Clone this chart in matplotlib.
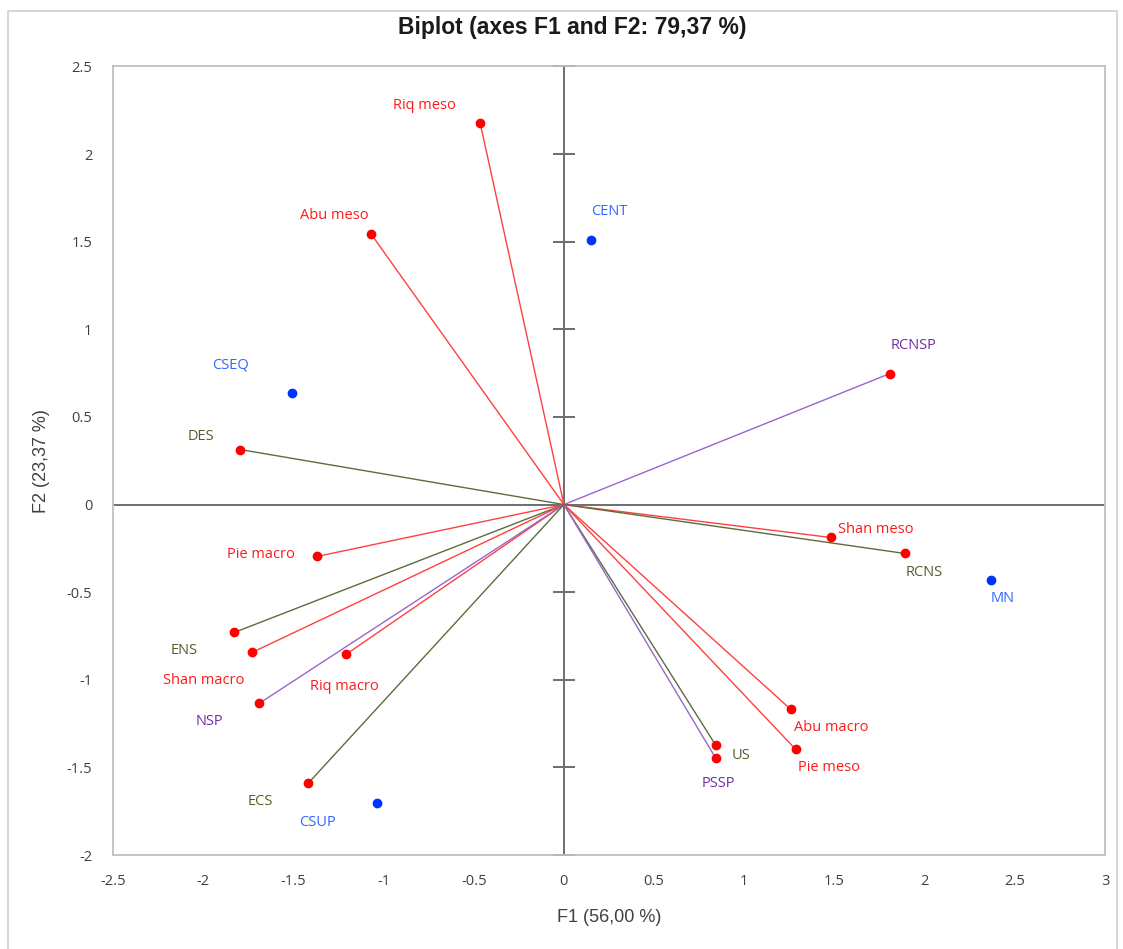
import matplotlib
matplotlib.use("Agg")
import matplotlib.pyplot as plt
from matplotlib.patches import Rectangle

# Variables (vectors) : name, F1, F2, group
var_names = ['Riq meso', 'Abu meso', 'RCNSP', 'DES', 'Shan meso', 'RCNS',
             'Pie macro', 'ENS', 'Shan macro', 'Riq macro', 'NSP',
             'Abu macro', 'US', 'Pie meso', 'PSSP', 'ECS']
var_f1 = [-0.465, -1.07, 1.806, -1.795, 1.479, 1.889,
          -1.368, -1.828, -1.729, -1.208, -1.690,
          1.258, 0.842, 1.285, 0.842, -1.418]
var_f2 = [2.18, 1.545, 0.747, 0.314, -0.188, -0.279,
          -0.296, -0.730, -0.844, -0.855, -1.135,
          -1.169, -1.374, -1.397, -1.448, -1.591]
var_group = ['bio', 'bio', 'sp', 'env', 'bio', 'env',
             'bio', 'env', 'bio', 'bio', 'sp',
             'bio', 'env', 'bio', 'sp', 'env']

# Observations
obs_names = ['CENT', 'CSEQ', 'MN', 'CSUP']
obs_f1 = [0.15, -1.507, 2.366, -1.036]
obs_f2 = [1.51, 0.639, -0.433, -1.705]

# label offsets in pixels (dx, dy up)
var_offsets = {'Riq meso': (-56, 17), 'Abu meso': (-37, 18), 'RCNSP': (24, 28),
               'DES': (-39, 13), 'Shan meso': (45, 8), 'RCNS': (20, -19),
               'Pie macro': (-56, 2), 'ENS': (-50, -18), 'Shan macro': (-48, -28),
               'Riq macro': (-2, -32), 'NSP': (-50, -18), 'Abu macro': (40, -18),
               'US': (25, -10), 'Pie meso': (33, -18), 'PSSP': (3, -25),
               'ECS': (-48, -18)}
obs_offsets = {'CENT': (18, 28), 'CSEQ': (-62, 28), 'MN': (12, -18), 'CSUP': (-60, -19)}

line_colors = {'bio': '#FF4040', 'env': '#5A6E3C', 'sp': '#9966CC'}
text_colors = {'bio': '#FF1A1A', 'env': '#4F6228', 'sp': '#7030A0'}

plt.rcParams['font.family'] = ['Open Sans', 'DejaVu Sans']

fig = plt.figure(figsize=(11.23, 9.49), dpi=100)
fig.patches.append(Rectangle((0.007, -0.01), 0.988, 0.998, transform=fig.transFigure,
                             fill=False, edgecolor='#D0D0D0', linewidth=1.2))
ax = fig.add_axes([0.1006, 0.099, 0.8834, 0.831])

ax.set_xlim(-2.5, 3)
ax.set_ylim(-2, 2.5)

# zero axes, vertical one with crossing ticks
ax.axhline(0, color='#6E6E6E', linewidth=1.4, zorder=1)
ax.axvline(0, color='#6E6E6E', linewidth=1.4, zorder=1)
yt = [-2, -1.5, -1, -0.5, 0.5, 1, 1.5, 2, 2.5]
ax.plot([0] * len(yt), yt, linestyle='none', marker='_', markersize=16,
        markeredgewidth=1.4, color='#6E6E6E', zorder=1, clip_on=False)

for name, x, y, g in zip(var_names, var_f1, var_f2, var_group):
    ax.plot([0, x], [0, y], color=line_colors[g], linewidth=1.0, zorder=2)
    ax.plot(x, y, 'o', color='#FF0000', markersize=6, zorder=3)
    ax.annotate(name, (x, y), xytext=var_offsets[name], textcoords='offset pixels',
                ha='center', va='center', color=text_colors[g], fontsize=10.5)

for name, x, y in zip(obs_names, obs_f1, obs_f2):
    ax.plot(x, y, 'o', color='#0033FF', markersize=6, zorder=3)
    ax.annotate(name, (x, y), xytext=obs_offsets[name], textcoords='offset pixels',
                ha='center', va='center', color='#3366FF', fontsize=10.5)

ax.set_xticks([-2.5, -2, -1.5, -1, -0.5, 0, 0.5, 1, 1.5, 2, 2.5, 3])
ax.set_xticklabels(['-2.5', '-2', '-1.5', '-1', '-0.5', '0', '0.5', '1', '1.5', '2', '2.5', '3'])
ax.set_yticks([-2, -1.5, -1, -0.5, 0, 0.5, 1, 1.5, 2, 2.5])
ax.set_yticklabels(['-2', '-1.5', '-1', '-0.5', '0', '0.5', '1', '1.5', '2', '2.5'])
ax.tick_params(length=0, labelsize=10.5, colors='#404040')
ax.tick_params(axis='x', pad=14)
ax.tick_params(axis='y', pad=15)

for s in ax.spines.values():
    s.set_color('#BFBFBF')
    s.set_linewidth(1.3)

ax.set_xlabel('F1 (56,00 %)', fontsize=13, color='#404040', labelpad=14,
              family=['Liberation Sans', 'DejaVu Sans'])
ax.set_ylabel('F2 (23,37 %)', fontsize=13, color='#404040', labelpad=12,
              family=['Liberation Sans', 'DejaVu Sans'])
fig.text(0.5095, 0.971, 'Biplot (axes F1 and F2: 79,37 %)', ha='center', va='center',
         fontsize=16.5, fontweight='bold', color='#1A1A1A',
         family=['Liberation Sans', 'DejaVu Sans'])

fig.savefig('out.png', dpi=100)
